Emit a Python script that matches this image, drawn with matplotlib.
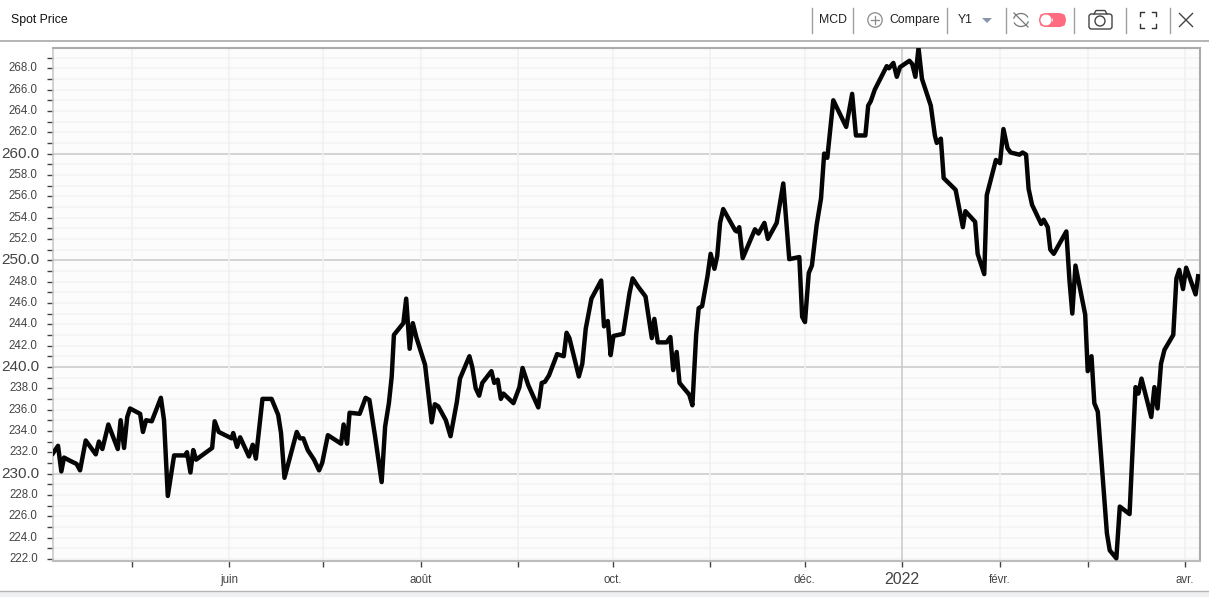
import pandas as pd
import matplotlib.pyplot as plt
import matplotlib.dates as mdates
from matplotlib.patches import Circle, FancyBboxPatch, Polygon, Arc, Rectangle

plt.rcParams['font.family'] = ['Liberation Sans', 'DejaVu Sans']

# days since the first date
start_date = '2021-04-06'
days = [0, 1.6, 2.65, 3.5, 5.4, 7.5, 8.6, 10.4, 13.6, 14.6, 15.7, 17.6, 20.6, 21.5, 22.6, 23.6, 24.5, 27.7,
        28.6, 29.6, 31.4, 34.3, 35.3, 36.5, 38.5, 42, 42.6, 43.7, 44.6, 45.5, 50.6, 51.4, 52.7, 56.8, 57.3,
        58.5, 59.5, 62.3, 63.5, 64.5, 66.6, 69.5, 71.6, 72.5, 73.6, 77.5, 78.5, 79.6, 81, 83, 84.6, 85.6,
        87.4, 91.6, 92.4, 93.5, 94.3, 97.5, 99.4, 100.6, 102.4, 104.5, 105.6, 106.8, 107.7, 108.4, 111.4,
        112.3, 113.4, 114.4, 115.6, 118.3, 120.4, 121.4, 122.5, 124.9, 126.4, 128.4, 129.4, 132.4, 133.3,
        134.4, 135.5, 136.5, 139.4, 140.3, 141.4, 142.4, 143.2, 146.4, 148.3, 149.3, 151.1, 154.3, 155.4,
        156.4, 157.7, 160.3, 162.4, 163.3, 164.2, 167.2, 168.3, 169.4, 171.2, 174.3, 175.2, 176.4, 177.3,
        178.2, 181.3, 183.3, 184.3, 186.1, 188.4, 190.4, 191.2, 192.3, 195.1, 196.3, 197.2, 198.3, 199.2,
        202.3, 203.3, 204.5, 205.3, 206.4, 208.1, 209.1, 210.3, 211.2, 212.1, 213.1, 216.9, 217.4, 218.2,
        219.3, 223.2, 224.3, 226.2, 227.3, 230.1, 232.2, 234.1, 237.3, 238.2, 239.1, 240.3, 241.3, 242.8,
        244.2, 245.2, 246.2, 248.1, 252.2, 254.1, 255.3, 258.3, 259.2, 260, 261.3, 265.1, 265.8, 267.2,
        268.3, 269.3, 272.3, 273.2, 274.2, 275.2, 276.3, 279.1, 280.4, 281, 282.3, 283.2, 287, 288.1, 289.3,
        290.1, 293.2, 294, 296.1, 296.9, 299.8, 301.1, 302.2, 303.5, 304.5, 307.3, 308.3, 309.4, 310.2,
        311.3, 314.2, 315, 316.3, 317.1, 318.2, 322.2, 323.2, 324.1, 325.1, 328.2, 329, 330.2, 331.1, 332.2,
        335.1, 336, 338.1, 339.2, 342.3, 344.2, 345.1, 346.1, 349.2, 350.2, 351.2, 352.3, 353.4, 356.2,
        357.2, 358.1, 359.3, 360.3, 363.3, 364.1]
prices = [231.9, 232.6, 230.2, 231.5, 231.2, 230.9, 230.3, 233.1, 231.8, 233.0, 232.3, 234.6, 232.3, 235.0,
          232.4, 235.3, 236.1, 235.6, 233.9, 235.0, 234.9, 237.1, 235.0, 227.9, 231.7, 231.7, 232.0, 230.1,
          232.2, 231.3, 232.4, 234.9, 233.9, 233.3, 233.8, 232.5, 233.4, 231.6, 232.7, 231.4, 237.0, 237.0,
          235.5, 233.8, 229.6, 233.9, 233.3, 233.3, 232.2, 231.3, 230.3, 231.0, 233.6, 232.8, 234.6, 232.8,
          235.7, 235.6, 237.1, 236.9, 233.5, 229.2, 234.4, 236.6, 239.1, 243.0, 244.1, 246.4, 241.7, 244.1,
          242.7, 240.2, 234.8, 236.5, 236.3, 235.0, 233.5, 236.7, 238.9, 241.0, 240.0, 238.0, 237.3, 238.5,
          239.6, 238.5, 238.8, 237.0, 237.5, 236.6, 238.1, 239.9, 238.3, 236.2, 238.5, 238.6, 239.2, 241.2,
          241.0, 243.2, 242.7, 239.1, 240.3, 243.6, 246.4, 248.1, 243.8, 244.3, 241.1, 242.9, 243.1, 246.9,
          248.3, 247.5, 246.6, 242.7, 244.5, 242.3, 242.3, 242.8, 239.7, 241.4, 238.5, 237.4, 236.4, 243.0,
          245.5, 245.7, 248.5, 250.6, 249.2, 250.4, 253.5, 254.8, 252.8, 252.7, 253.1, 250.2, 252.9, 252.5,
          253.5, 252.0, 253.5, 257.2, 250.1, 250.3, 244.7, 244.2, 248.8, 249.5, 253.3, 255.8, 260.0, 259.6,
          265.0, 262.5, 265.6, 261.7, 261.7, 264.5, 264.9, 266.0, 268.2, 268.0, 268.5, 267.2, 268.1, 268.7,
          268.4, 267.2, 269.9, 267.0, 264.5, 261.7, 261.0, 261.4, 257.7, 256.6, 254.9, 253.1, 254.6, 253.6,
          250.6, 248.7, 256.1, 259.4, 259.1, 262.3, 260.5, 260.1, 259.9, 260.1, 259.9, 256.7, 255.2, 253.4,
          253.8, 253.1, 251.0, 250.6, 252.7, 248.1, 245.0, 249.5, 244.9, 239.6, 241.0, 236.6, 235.8, 224.4,
          222.8, 222.05, 226.9, 226.2, 238.1, 237.5, 238.9, 235.3, 238.1, 236.1, 240.3, 241.6, 243.0, 248.3,
          249.1, 247.3, 249.3, 246.8, 248.5]

month_starts = ['2021-05-01', '2021-06-01', '2021-07-01', '2021-08-01', '2021-09-01', '2021-10-01',
                '2021-11-01', '2021-12-01', '2022-01-01', '2022-02-01', '2022-03-01', '2022-04-01']
month_labels = ['', 'juin', '', 'août', '', 'oct.', '', 'déc.', '2022', 'févr.', '', 'avr.']
y_ticks = list(range(222, 270))
title = 'Spot Price'
ticker = 'MCD'

W, H = 1209, 597
fig = plt.figure(figsize=(W / 100, H / 100), dpi=100, facecolor='white')

# barre du haut, en pixels
bar = fig.add_axes([0, 0, 1, 1])
bar.set_xlim(0, W)
bar.set_ylim(H, 0)
bar.axis('off')
bar.add_patch(Rectangle((0, 590.5), W, 7, fc='#eef0f2', ec='none'))
bar.plot([0, W], [590.5, 590.5], color='#b5b5b5', lw=1)
bar.plot([0, W], [40.5, 40.5], color='#a8a8a8', lw=1.2)
bar.text(11, 19.5, title, fontsize=8.8, color='#111111', va='center', fontweight='medium')
for xd in [811.5, 853, 947, 1005.5, 1074, 1126, 1170]:
    bar.plot([xd, xd], [8, 33], color='#a0a0a0', lw=1)
bar.text(819, 20, ticker, fontsize=8.8, color='#222222', va='center')
bar.text(889, 20, 'Compare', fontsize=8.8, color='#222222', va='center')
bar.text(958, 20, 'Y1', fontsize=8.8, color='#222222', va='center')
bar.add_patch(Circle((875, 20), 7.2, fc='none', ec='#8a8a8a', lw=0.9))
bar.plot([871, 879], [20, 20], color='#8a8a8a', lw=0.9)
bar.plot([875, 875], [16, 24], color='#8a8a8a', lw=0.9)
bar.add_patch(Polygon([[982, 18], [992, 18], [987, 23]], fc='#8596a8', ec='none'))
# icone refresh
bar.add_patch(Arc((1021, 20), 15, 13, theta1=190, theta2=340, color='#777777', lw=0.9))
bar.add_patch(Arc((1021, 20), 15, 13, theta1=10, theta2=160, color='#777777', lw=0.9))
bar.plot([1014, 1028], [13, 27], color='#777777', lw=0.9)
# toggle
bar.add_patch(FancyBboxPatch((1046, 20), 13, 0.1, boxstyle='round,pad=0,rounding_size=0.01',
                             fc='#ff6b7f', ec='#ff6b7f', lw=10, capstyle='round'))
bar.add_patch(Circle((1046, 20), 5.5, fc='white', ec='none', zorder=3))
# appareil photo
bar.add_patch(FancyBboxPatch((1089, 14), 23, 15, boxstyle='round,pad=0,rounding_size=2.5',
                             fc='none', ec='#444444', lw=1))
bar.plot([1094, 1096, 1105, 1107], [14, 10.5, 10.5, 14], color='#444444', lw=1)
bar.add_patch(Circle((1100, 21), 5, fc='none', ec='#444444', lw=1))
# plein ecran
for cx, cy, dx, dy in [(1140, 12, 1, 1), (1156, 12, -1, 1), (1140, 28, 1, -1), (1156, 28, -1, -1)]:
    bar.plot([cx + 4 * dx, cx, cx], [cy, cy, cy + 4 * dy], color='#333333', lw=1)
bar.plot([1179.5, 1192.5], [13.5, 26.5], color='#444444', lw=1)
bar.plot([1179.5, 1192.5], [26.5, 13.5], color='#444444', lw=1)

# graphique
ax = fig.add_axes([53 / W, 1 - 561 / H, (1200 - 53) / W, (561 - 48) / H])
ax.set_facecolor('#fcfcfc')
dates = pd.Timestamp(start_date) + pd.to_timedelta(days, unit='D')
tick_dates = pd.to_datetime(month_starts)

ax.plot(dates, prices, color='#050505', lw=3.2, solid_joinstyle='round', zorder=5)
ax.set_xlim(pd.Timestamp(start_date), pd.Timestamp(start_date) + pd.Timedelta(days=364.7))
ax.set_ylim(221.8, 269.9)

ax.set_yticks(y_ticks)
ax.set_yticklabels([])
for v in y_ticks:
    major = v % 10 == 0
    ax.axhline(v, color='#c8c8c8' if major else '#f3f3f3', lw=1.1, zorder=1 if major else 0.5)
    if v % 2 == 0:
        ax.annotate(f'{v}.0', xy=(0, v), xycoords=ax.get_yaxis_transform(), xytext=(-9.5 if major else -11, 0),
                    textcoords='offset points', ha='right', va='center',
                    fontsize=11 if major else 8.3, color='#444444')
ax.tick_params(axis='y', length=4, width=1, color='#444444')

ax.set_xticks(tick_dates)
ax.set_xticklabels([])
for d, lab in zip(tick_dates, month_labels):
    big = lab == '2022'
    ax.axvline(d, color='#c8c8c8' if big else '#f1f1f1', lw=1.1, zorder=1)
    if lab:
        ax.annotate(lab, xy=(mdates.date2num(d), 0), xycoords=ax.get_xaxis_transform(), xytext=(0, -13.6),
                    textcoords='offset points', ha='center', va='center',
                    fontsize=11.5 if big else 8.3, color='#444444')
ax.tick_params(axis='x', length=4, width=1, color='#444444')

for side, col, w in [('top', '#ababab', 2), ('right', '#ababab', 2), ('bottom', '#bcbcbc', 2), ('left', '#c8c8c8', 1.5)]:
    ax.spines[side].set_color(col)
    ax.spines[side].set_linewidth(w * 0.75)

fig.savefig('out.png', dpi=100)
